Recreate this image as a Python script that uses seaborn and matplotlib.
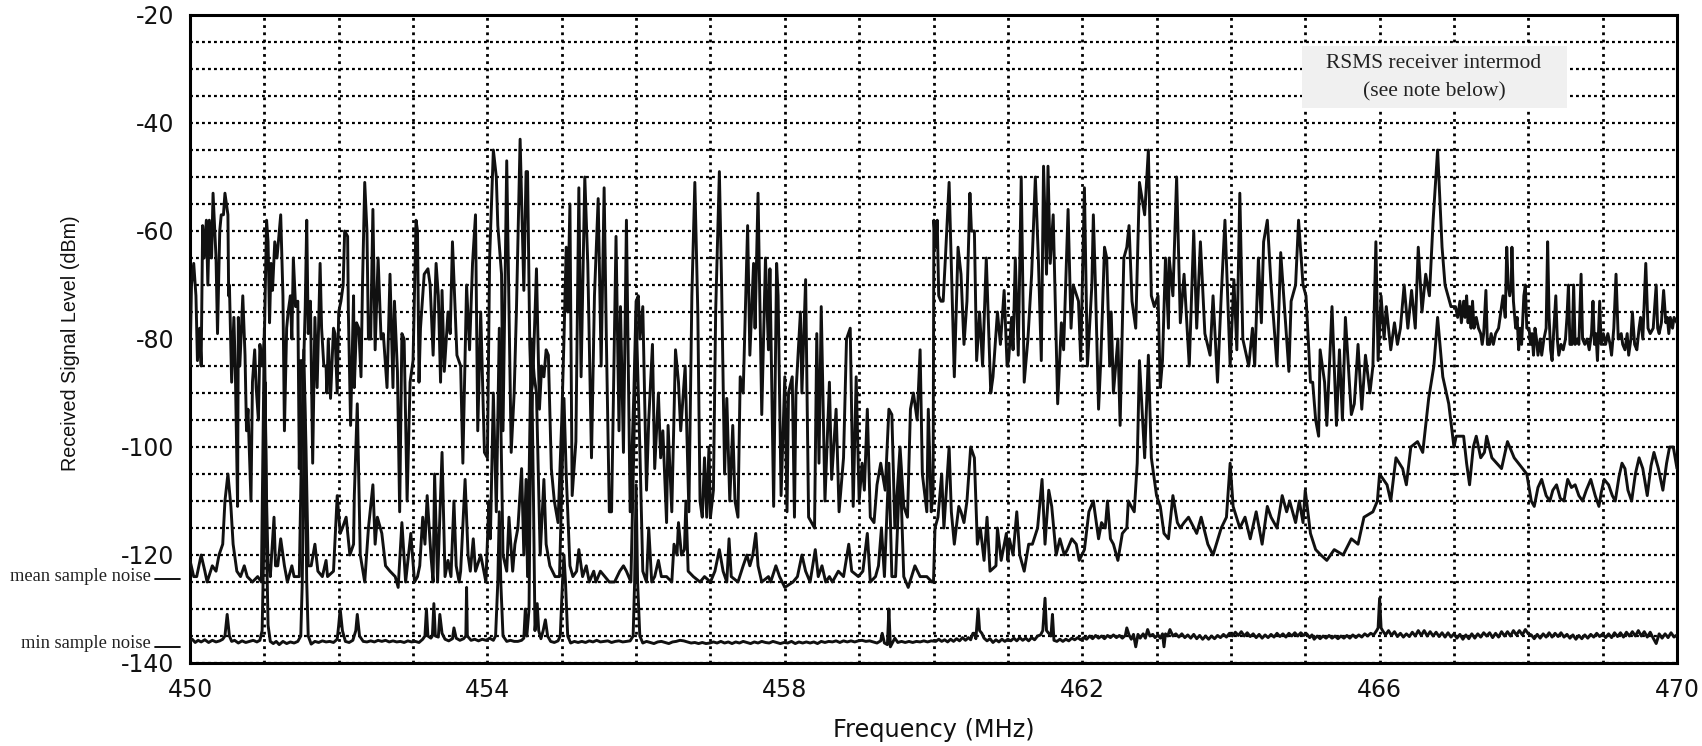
import pandas as pd
import numpy as np
import matplotlib
matplotlib.use("Agg")
import matplotlib.pyplot as plt
from matplotlib.patches import Rectangle
import seaborn as sns

# (MHz, dBm), upper curve = max sample
upper_450 = [(450.0,-85),(450.02,-70),(450.05,-66),(450.08,-72),(450.1,-84),(450.13,-78),(450.15,-85),(450.17,-59),(450.19,-65),(450.22,-58),(450.24,-70),(450.26,-58),(450.29,-65),(450.31,-53),(450.35,-65),(450.37,-79),(450.4,-60),(450.42,-57),(450.45,-57),(450.47,-53),(450.51,-57),(450.52,-72),(450.53,-70),(450.56,-88),(450.59,-76),(450.61,-86),(450.64,-111),(450.65,-76),(450.67,-85),(450.71,-72),(450.74,-83),(450.76,-97),(450.78,-93),(450.82,-110),(450.84,-88),(450.87,-82),(450.89,-89),(450.92,-95),(450.94,-81),(450.97,-85),(451.0,-80),
 (451.03,-58),(451.05,-62),(451.07,-77),(451.09,-66),(451.11,-71),(451.14,-62),(451.17,-65),(451.22,-57),(451.25,-72),(451.27,-97),(451.3,-78),(451.32,-75),(451.35,-72),(451.37,-80),(451.39,-65),(451.42,-74),(451.45,-73),(451.47,-104),(451.49,-84),(451.53,-84),(451.55,-74),(451.57,-58),(451.59,-79),(451.62,-73),(451.65,-103),(451.68,-76),(451.71,-89),(451.75,-66),(451.77,-78),(451.8,-85),(451.83,-85),(451.84,-90),(451.86,-80),(451.89,-91),(451.93,-78),(451.95,-79),(451.98,-90),(452.0,-75),
 (452.03,-73),(452.06,-70),(452.08,-60),(452.12,-61),(452.13,-75),(452.16,-96),(452.2,-72),(452.21,-89),(452.24,-77),(452.27,-78),(452.3,-87),(452.32,-70),(452.35,-51),(452.38,-60),(452.4,-80),(452.43,-80),(452.46,-56),(452.49,-82),(452.53,-65),(452.57,-80),(452.6,-79),(452.65,-89),(452.69,-68),(452.73,-89),(452.75,-73),(452.79,-86),(452.82,-112),(452.85,-79),(452.88,-80),(452.92,-110),(452.96,-88),(453.0,-84),
 (453.04,-58),(453.06,-60),(453.08,-88),(453.1,-78),(453.15,-68),(453.2,-67),(453.23,-70),(453.27,-83),(453.31,-66),(453.34,-72),(453.37,-88),(453.39,-71),(453.42,-86),(453.47,-75),(453.5,-79),(453.53,-62),(453.59,-83),(453.64,-85),(453.67,-103),(453.72,-70),(453.76,-82),(453.8,-66),(453.84,-57),(453.87,-97),(453.91,-75),(453.96,-101),(454.0,-102),
 (454.03,-65),(454.08,-45),(454.12,-50),(454.14,-59),(454.19,-68),(454.21,-97),(454.26,-47),(454.32,-101),(454.36,-90),(454.39,-75),(454.44,-43),(454.49,-71),(454.52,-49),(454.54,-49),(454.57,-81),(454.59,-90),(454.61,-88),(454.66,-67),(454.7,-93),(454.73,-85),(454.76,-87),(454.79,-82),(454.82,-83),(454.86,-104),(454.9,-110),(454.95,-114),(455.0,-95)]

upper_455 = [(455.03,-80),(455.06,-63),(455.08,-75),(455.11,-55),(455.14,-109),(455.19,-99),(455.23,-52),(455.26,-87),(455.31,-50),(455.35,-66),(455.4,-102),(455.44,-72),(455.49,-54),(455.53,-85),(455.57,-52),(455.6,-80),(455.64,-112),(455.67,-112),(455.73,-61),(455.77,-97),(455.79,-74),(455.83,-101),(455.87,-58),(455.92,-112),(455.97,-90),(456.0,-73),
 (456.03,-72),(456.05,-80),(456.09,-74),(456.14,-108),(456.17,-95),(456.22,-81),(456.25,-104),(456.3,-90),(456.33,-102),(456.36,-97),(456.41,-114),(456.43,-96),(456.48,-112),(456.53,-82),(456.57,-88),(456.6,-97),(456.66,-85),(456.71,-112),(456.75,-72),(456.79,-51),(456.83,-75),(456.86,-110),(456.89,-113),(456.92,-102),(456.95,-113),(456.98,-100),
 (457.0,-113),(457.04,-108),(457.07,-75),(457.12,-49),(457.15,-70),(457.19,-105),(457.22,-91),(457.26,-110),(457.3,-96),(457.33,-110),(457.37,-113),(457.4,-87),(457.44,-90),(457.5,-59),(457.53,-83),(457.58,-66),(457.6,-78),(457.64,-53),(457.69,-94),(457.74,-65),(457.78,-82),(457.8,-67),(457.85,-111),(457.89,-66),(457.91,-72),(457.95,-109),(458.0,-87),
 (458.03,-112),(458.05,-90),(458.1,-87),(458.13,-113),(458.15,-90),(458.21,-75),(458.23,-90),(458.28,-69),(458.32,-113),(458.4,-115),(458.43,-79),(458.46,-103),(458.49,-74),(458.54,-110),(458.6,-88),(458.63,-106),(458.69,-93),(458.73,-112),(458.79,-102),(458.83,-80),(458.88,-78),(458.92,-111),(458.96,-87),(459.0,-110),
 (459.04,-103),(459.07,-108),(459.11,-93),(459.15,-113),(459.2,-114),(459.24,-107),(459.29,-103),(459.35,-108),(459.4,-93),(459.44,-94),(459.48,-115),(459.55,-100),(459.6,-111),(459.65,-113),(459.69,-93),(459.73,-90),(459.78,-95),(459.82,-82),(459.85,-105),(459.91,-112),(459.93,-93),(459.97,-112),(459.995,-108)]

upper_460 = [(460.005,-58),(460.03,-63),(460.05,-58),(460.07,-72),(460.1,-73),(460.13,-73),(460.16,-65),(460.21,-51),(460.28,-87),(460.33,-63),(460.37,-68),(460.41,-81),(460.45,-73),(460.49,-53),(460.51,-60),(460.55,-60),(460.58,-84),(460.62,-75),(460.66,-85),(460.71,-65),(460.77,-90),(460.8,-87),(460.86,-75),(460.9,-81),(460.95,-71),(460.99,-85),
 (461.01,-84),(461.05,-76),(461.07,-82),(461.1,-65),(461.14,-83),(461.18,-50),(461.22,-88),(461.27,-80),(461.32,-68),(461.37,-50),(461.41,-65),(461.45,-84),(461.48,-48),(461.52,-68),(461.54,-48),(461.57,-66),(461.61,-57),(461.67,-92),(461.72,-77),(461.75,-82),(461.81,-56),(461.85,-78),(461.88,-70),(461.95,-73),(461.98,-84),
 (462.03,-52),(462.07,-85),(462.13,-70),(462.15,-57),(462.18,-71),(462.22,-93),(462.25,-84),(462.3,-63),(462.33,-65),(462.37,-85),(462.39,-75),(462.42,-90),(462.48,-80),(462.51,-96),(462.56,-65),(462.6,-63),(462.63,-59),(462.67,-73),(462.72,-78),(462.77,-51),(462.84,-57),(462.89,-45),(462.93,-72),(462.97,-74),
 (463.02,-72),(463.05,-89),(463.08,-84),(463.12,-65),(463.16,-78),(463.17,-65),(463.22,-72),(463.27,-50),(463.32,-77),(463.37,-68),(463.44,-85),(463.5,-60),(463.54,-78),(463.59,-62),(463.65,-79),(463.72,-83),(463.76,-72),(463.82,-88),(463.87,-72),(463.92,-58),(463.99,-85),
 (464.04,-69),(464.08,-82),(464.12,-53),(464.16,-80),(464.24,-85),(464.29,-78),(464.32,-85),(464.37,-65),(464.41,-77),(464.44,-62),(464.49,-58),(464.54,-70),(464.62,-85),(464.67,-64),(464.72,-74),(464.78,-86),(464.81,-73),(464.87,-70),(464.91,-58),(464.97,-70)]

upper_465 = [(465.01,-72),(465.07,-88),(465.1,-88),(465.14,-95),(465.18,-98),(465.2,-82),(465.26,-88),(465.29,-96),(465.36,-74),(465.42,-96),(465.46,-82),(465.5,-95),(465.54,-76),(465.62,-94),(465.66,-92),(465.71,-81),(465.76,-93),(465.81,-83),(465.87,-90),(465.91,-85),(465.95,-62),(465.98,-84),
 (466.02,-72),(466.06,-80),(466.09,-74),(466.15,-82),(466.2,-77),(466.24,-81),(466.28,-78),(466.33,-70),(466.38,-78),(466.43,-71),(466.48,-78),(466.52,-63),(466.57,-75),(466.62,-68),(466.67,-72),(466.72,-58),(466.78,-45),(466.84,-63),(466.88,-70),(466.92,-72),(466.96,-74),
 (467.02,-74),(467.05,-76),(467.08,-73),(467.1,-77),(467.13,-73),(467.15,-76),(467.17,-72),(467.19,-77),(467.21,-74),(467.23,-78),(467.25,-73),(467.27,-78),(467.3,-76),(467.33,-78),(467.36,-79),(467.38,-81),(467.4,-79),(467.43,-71),(467.45,-81),(467.48,-81),(467.5,-79),(467.53,-81),(467.56,-79),(467.6,-78),(467.63,-75),(467.66,-72),(467.69,-76),(467.71,-63),(467.73,-70),(467.75,-72),(467.77,-70),(467.78,-63),(467.8,-73),(467.83,-78),(467.85,-76),(467.87,-82),(467.89,-78),(467.91,-81),(467.94,-72),(467.96,-70),(467.98,-78),
 (468.01,-78),(468.03,-81),(468.05,-79),(468.07,-83),(468.09,-78),(468.11,-80),(468.13,-83),(468.16,-80),(468.18,-83),(468.21,-80),(468.24,-78),(468.26,-62),(468.28,-76),(468.3,-82),(468.32,-84),(468.34,-79),(468.37,-72),(468.39,-80),(468.41,-83),(468.44,-81),(468.47,-82),(468.5,-80),(468.52,-76),(468.54,-70),(468.56,-81),(468.59,-81),(468.61,-70),(468.63,-81),(468.66,-80),(468.68,-81),(468.71,-68),(468.73,-80),(468.76,-81),(468.79,-80),(468.82,-82),(468.85,-79),(468.87,-73),(468.89,-81),(468.91,-79),(468.93,-84),(468.96,-73),(468.98,-81),
 (469.01,-79),(469.04,-81),(469.07,-79),(469.1,-81),(469.12,-83),(469.15,-78),(469.18,-68),(469.21,-80),(469.25,-79),(469.27,-81),(469.3,-82),(469.33,-79),(469.35,-83),(469.38,-80),(469.4,-75),(469.43,-81),(469.46,-82),(469.49,-78),(469.51,-76),(469.54,-80),(469.58,-66),(469.61,-78),(469.64,-79),(469.68,-78),(469.72,-70),(469.74,-78),(469.76,-79),(469.79,-77),(469.82,-71),(469.85,-77),(469.87,-76),(469.89,-79),(469.91,-76),(469.94,-78),(469.96,-76),(470.0,-77)]

# mean sample
middle_450 = [(450.0,-121),(450.05,-124),(450.09,-124),(450.15,-120),(450.2,-123),(450.23,-125),(450.3,-122),(450.35,-123),(450.39,-120),(450.44,-118),(450.47,-110),(450.51,-105),(450.55,-111),(450.58,-118),(450.63,-123),(450.68,-124),(450.73,-122),(450.77,-124),(450.84,-125),(450.91,-124),(450.96,-125),(451.0,-78),(451.03,-110),
 (451.05,-122),(451.06,-122),(451.08,-124),(451.13,-113),(451.15,-122),(451.18,-122),(451.22,-117),(451.27,-122),(451.31,-125),(451.37,-122),(451.4,-124),(451.47,-124),(451.5,-100),(451.53,-82),(451.56,-100),(451.59,-122),(451.63,-122),(451.68,-118),(451.72,-123),(451.78,-124),(451.83,-121),(451.85,-124),(451.93,-123),
 (451.98,-109),(452.02,-116),(452.05,-115),(452.1,-113),(452.15,-120),(452.2,-118),(452.21,-109),(452.25,-92),(452.29,-120),(452.35,-125),(452.4,-115),(452.46,-107),(452.49,-118),(452.52,-113),(452.58,-116),(452.63,-122),(452.69,-123),(452.76,-124),(452.8,-126),(452.85,-114),(452.9,-125),(452.97,-116),
 (453.02,-125),(453.06,-124),(453.09,-122),(453.13,-113),(453.16,-118),(453.19,-109),(453.24,-120),(453.27,-125),(453.29,-105),(453.33,-125),(453.39,-101),(453.43,-124),(453.47,-121),(453.51,-124),(453.55,-110),(453.58,-122),(453.62,-125),(453.64,-123),(453.7,-106),(453.74,-120),(453.77,-123),(453.81,-117),(453.84,-123),(453.91,-120),(453.98,-125),
 (454.02,-110),(454.04,-117),(454.08,-90),(454.12,-112),(454.16,-78),(454.21,-120),(454.26,-123),(454.29,-113),(454.34,-123),(454.37,-118),(454.41,-115),(454.46,-104),(454.49,-120),(454.52,-106),(454.54,-124),(454.59,-80),(454.63,-87),(454.66,-90),(454.71,-120),(454.76,-106),(454.79,-118),(454.84,-122),(454.91,-124),(454.97,-124)]

middle_455 = [(455.03,-91),(455.06,-105),(455.11,-122),(455.15,-124),(455.2,-123),(455.23,-119),(455.28,-124),(455.33,-122),(455.37,-125),(455.43,-123),(455.46,-125),(455.52,-123),(455.58,-124),(455.64,-125),(455.71,-125),(455.78,-123),(455.83,-122),(455.87,-123),(455.93,-125),(455.97,-100),
 (456.0,-75),(456.05,-100),(456.09,-123),(456.14,-125),(456.17,-115),(456.21,-125),(456.25,-124),(456.3,-121),(456.34,-124),(456.41,-124),(456.48,-125),(456.51,-118),(456.55,-120),(456.57,-114),(456.61,-120),(456.65,-119),(456.67,-110),(456.7,-123),(456.77,-124),(456.86,-125),(456.92,-124),
 (457.0,-125),(457.06,-123),(457.12,-119),(457.17,-123),(457.22,-125),(457.25,-117),(457.28,-124),(457.37,-125),(457.44,-122),(457.49,-120),(457.53,-122),(457.57,-120),(457.61,-116),(457.64,-122),(457.69,-125),(457.78,-124),(457.81,-125),(457.88,-122),(457.93,-124),
 (458.0,-126),(458.11,-125),(458.17,-124),(458.23,-120),(458.28,-123),(458.34,-125),(458.41,-119),(458.45,-124),(458.5,-122),(458.55,-125),(458.6,-124),(458.64,-125),(458.72,-123),(458.79,-124),(458.86,-118),(458.9,-123),(458.99,-124),
 (459.05,-123),(459.11,-116),(459.15,-125),(459.22,-124),(459.26,-122),(459.3,-115),(459.34,-124),(459.4,-103),(459.44,-124),(459.49,-124),(459.55,-103),(459.6,-124),(459.66,-126),(459.75,-122),(459.82,-124),(459.91,-124),(459.98,-125),(460.0,-125)]

middle_460 = [(460.02,-115),(460.06,-113),(460.11,-105),(460.14,-115),(460.21,-100),(460.24,-112),(460.28,-118),(460.34,-111),(460.37,-112),(460.41,-114),(460.45,-110),(460.5,-100),(460.55,-102),(460.59,-118),(460.63,-115),(460.68,-121),(460.72,-113),(460.76,-123),(460.84,-122),(460.86,-115),(460.91,-121),(460.98,-116),
 (461.0,-121),(461.02,-117),(461.07,-120),(461.12,-112),(461.16,-120),(461.22,-123),(461.28,-118),(461.33,-118),(461.4,-115),(461.46,-106),(461.5,-118),(461.55,-108),(461.59,-111),(461.65,-120),(461.7,-117),(461.76,-120),(461.8,-119),(461.86,-117),(461.92,-118),(461.96,-121),
 (462.03,-119),(462.09,-112),(462.15,-110),(462.22,-117),(462.26,-114),(462.31,-115),(462.34,-110),(462.38,-117),(462.42,-118),(462.48,-121),(462.54,-116),(462.6,-115),(462.62,-110),(462.7,-112),(462.74,-103),(462.77,-84),(462.84,-102),(462.89,-83),(462.93,-102),
 (463.0,-109),(463.05,-111),(463.1,-116),(463.16,-117),(463.22,-109),(463.28,-114),(463.32,-115),(463.37,-114),(463.43,-113),(463.54,-116),(463.6,-113),(463.69,-118),(463.76,-120),(463.87,-115),(463.94,-113),(463.99,-103),
 (464.03,-111),(464.12,-115),(464.19,-113),(464.26,-117),(464.34,-112),(464.42,-118),(464.49,-111),(464.54,-113),(464.62,-115),(464.69,-109),(464.75,-112),(464.79,-110),(464.87,-114),(464.92,-110),(464.97,-114)]

middle_465 = [(465.0,-108),(465.07,-116),(465.14,-119),(465.21,-120),(465.29,-121),(465.39,-119),(465.51,-120),(465.62,-117),(465.71,-118),(465.79,-113),(465.91,-112),(465.97,-110),
 (466.0,-105),(466.1,-107),(466.15,-110),(466.22,-102),(466.31,-104),(466.36,-107),(466.42,-100),(466.51,-99),(466.58,-101),(466.66,-91),(466.73,-85),(466.78,-76),(466.85,-87),(466.93,-92),
 (467.0,-100),(467.03,-98),(467.13,-98),(467.17,-103),(467.21,-107),(467.26,-100),(467.3,-98),(467.36,-102),(467.41,-101),(467.44,-98),(467.51,-102),(467.64,-104),(467.72,-99),(467.81,-102),(467.98,-105),
 (468.04,-110),(468.08,-111),(468.13,-107.5),(468.18,-106),(468.24,-109),(468.29,-110),(468.33,-108),(468.38,-107),(468.43,-109.5),(468.48,-110),(468.51,-107.5),(468.53,-106),(468.58,-107.5),(468.63,-107),(468.68,-109),(468.73,-110),(468.78,-108),(468.84,-106),(468.9,-109),(468.95,-111),
 (468.98,-108.5),(469.02,-106),(469.08,-107),(469.13,-109),(469.17,-110),(469.22,-105.5),(469.26,-103),(469.3,-104),(469.34,-108),(469.39,-110),(469.44,-105),(469.49,-102),(469.54,-104),(469.6,-109),(469.65,-103.5),(469.69,-101),(469.75,-104),(469.81,-108),(469.86,-103),(469.9,-100),(469.95,-100),(470.0,-104)]

# min sample
lower_450 = [(450.0,-136),(450.03,-135.6),(450.07,-136.2),(450.11,-135.8),(450.15,-136.1),(450.2,-135.7),(450.25,-136.2),(450.3,-135.8),(450.35,-136.1),(450.4,-135.9),(450.44,-135.6),(450.47,-135),(450.5,-131),(450.53,-135),(450.56,-136),(450.6,-135.8),(450.65,-136.3),(450.7,-135.9),(450.75,-136.2),(450.8,-136),(450.85,-135.8),(450.9,-136.1),(450.94,-135.8),(450.97,-134),(450.99,-120),(451.01,-88),(451.03,-118),(451.05,-133),(451.08,-136),(451.12,-136.4),(451.16,-136),(451.2,-136.6),(451.25,-136),(451.3,-136.4),(451.35,-136.1),(451.4,-136.3),(451.45,-136),(451.49,-135),(451.51,-125),(451.54,-90),(451.57,-125),(451.59,-135),(451.63,-136.5),(451.68,-136),(451.73,-136.2),(451.78,-135.9),(451.83,-136.1),(451.88,-136),(451.93,-136.2),(451.98,-135.6),
 (452.0,-133),(452.02,-130),(452.05,-134),(452.09,-136),(452.14,-136.2),(452.19,-135.8),(452.23,-134),(452.25,-131),(452.28,-135),(452.33,-136),(452.38,-136.1),(452.43,-135.9),(452.48,-136.1),(452.53,-135.8),(452.58,-136),(452.63,-135.8),(452.68,-136.1),(452.73,-135.9),(452.78,-136.1),(452.83,-136),(452.88,-136.2),(452.93,-135.9),(452.98,-136.1),
 (453.03,-136),(453.08,-136.2),(453.13,-135.6),(453.16,-135),(453.18,-130),(453.2,-135),(453.24,-135.4),(453.26,-135),(453.28,-129),(453.3,-135),(453.34,-135.2),(453.36,-131),(453.39,-134.5),(453.43,-135.6),(453.48,-135.9),(453.53,-135.5),(453.55,-133.5),(453.58,-135.4),(453.63,-135.8),(453.68,-135.5),(453.71,-135),(453.72,-126),(453.73,-135),(453.78,-135.8),(453.83,-135.6),(453.88,-135.9),(453.93,-135.6),(453.98,-135.8),
 (454.03,-135.4),(454.08,-135.8),(454.11,-135),(454.14,-125),(454.16,-112),(454.18,-125),(454.21,-135),(454.26,-136),(454.31,-135.8),(454.36,-136),(454.41,-136),(454.46,-135.8),(454.49,-135.4),(454.51,-130),(454.53,-135),(454.56,-130),(454.58,-100),(454.6,-90),(454.62,-110),(454.64,-134),(454.67,-129),(454.69,-134),(454.72,-135.5),(454.75,-134),(454.78,-132),(454.81,-135),(454.85,-136),(454.9,-136.2),(454.95,-135.9),(454.98,-135)]

lower_455 = [(455.01,-125),(455.03,-120),(455.05,-125),(455.08,-135),(455.12,-136.3),(455.17,-136),(455.22,-136.2),(455.27,-136),(455.32,-136.2),(455.37,-135.9),(455.42,-136.1),(455.47,-135.8),(455.52,-136.1),(455.57,-136),(455.62,-135.9),(455.67,-136.2),(455.72,-136),(455.77,-135.9),(455.82,-136.1),(455.87,-136),(455.92,-135.9),(455.96,-135),(455.98,-125),(456.0,-107),(456.02,-125),(456.05,-135),(456.09,-136.3),(456.14,-136),(456.19,-136.2),(456.24,-136.4),(456.29,-136.1),(456.34,-136),(456.39,-136.2),(456.44,-136.4),(456.49,-136.1),(456.54,-136),(456.59,-135.8),(456.64,-135.9),(456.69,-136.1),(456.74,-136.3),(456.79,-136.2),(456.84,-136.4),(456.89,-136.2),(456.94,-136.4),(456.99,-136.3),
 (457.04,-136.1),(457.09,-136.3),(457.14,-136),(457.19,-136.3),(457.24,-136.1),(457.29,-136.4),(457.34,-136.1),(457.39,-136.3),(457.44,-136),(457.49,-136.2),(457.54,-136.4),(457.59,-136.1),(457.64,-136.3),(457.69,-136),(457.74,-136.2),(457.79,-136.3),(457.84,-136),(457.89,-136.2),(457.94,-136.4),(457.99,-136.2),
 (458.04,-136.3),(458.09,-136),(458.14,-136.4),(458.19,-136.1),(458.24,-136.3),(458.29,-136.1),(458.34,-136.3),(458.39,-136.1),(458.44,-136.4),(458.49,-136),(458.54,-136.2),(458.59,-136),(458.64,-136.1),(458.69,-135.9),(458.74,-136.2),(458.79,-135.9),(458.84,-136.1),(458.89,-135.9),(458.94,-136.1),(458.99,-135.9),
 (459.04,-135.8),(459.09,-136),(459.14,-135.9),(459.19,-136.1),(459.24,-136.3),(459.29,-135.9),(459.31,-134.5),(459.34,-136.3),(459.38,-136.6),(459.4,-130),(459.42,-137),(459.45,-136.2),(459.48,-135.4),(459.52,-136.2),(459.57,-136),(459.62,-136.2),(459.67,-136),(459.72,-136.2),(459.77,-136),(459.82,-136.1),(459.87,-135.9),(459.92,-136.1),(459.97,-135.9)]

lower_460 = [(460.03,-136),(460.07,-135.6),(460.11,-136),(460.15,-135.7),(460.19,-136.1),(460.23,-135.6),(460.27,-136),(460.31,-135.5),(460.35,-135.9),(460.39,-135.3),(460.43,-135.8),(460.47,-135.3),(460.5,-135.7),(460.53,-134.5),(460.55,-134.5),(460.57,-135.5),(460.6,-130),(460.62,-134),(460.65,-134.5),(460.68,-135.4),(460.72,-135.9),(460.76,-135.5),(460.8,-136.2),(460.84,-135.7),(460.88,-136.1),(460.92,-135.6),(460.96,-136),(461.0,-135.6),
 (461.04,-135.9),(461.08,-135.4),(461.12,-135.9),(461.16,-135.3),(461.2,-135.8),(461.24,-135.4),(461.28,-135.9),(461.32,-135.3),(461.36,-135.7),(461.4,-135),(461.44,-134.8),(461.47,-134),(461.5,-128),(461.52,-134),(461.55,-134.5),(461.58,-135),(461.6,-131),(461.62,-135.8),(461.66,-136),(461.7,-135.6),(461.74,-136),(461.78,-135.6),(461.82,-135.9),(461.86,-135.4),(461.9,-135.7),(461.94,-135.3),(461.98,-135.7),
 (462.02,-135.3),(462.06,-135.6),(462.1,-135),(462.14,-135.5),(462.18,-134.9),(462.22,-135.4),(462.26,-135),(462.3,-135.5),(462.34,-134.9),(462.38,-135.3),(462.42,-134.8),(462.46,-135.3),(462.5,-134.9),(462.54,-135.4),(462.58,-134.9),(462.6,-133.5),(462.63,-134.8),(462.66,-135.6),(462.69,-134.7),(462.72,-137),(462.75,-134.7),(462.78,-135.4),(462.82,-134.6),(462.85,-135.4),(462.88,-133.8),(462.91,-135),(462.95,-134.7),(462.98,-135.3),
 (463.02,-134.8),(463.05,-135.4),(463.08,-134.6),(463.1,-137),(463.12,-134.6),(463.15,-135),(463.18,-133.8),(463.22,-135),(463.26,-134.6),(463.3,-135.2),(463.34,-134.6),(463.38,-135.3),(463.42,-134.8),(463.46,-135.4),(463.5,-134.7),(463.54,-135.5),(463.58,-134.9),(463.62,-135.6),(463.66,-135),(463.7,-135.6),(463.74,-135),(463.78,-135.5),(463.82,-134.9),(463.86,-135.3),(463.9,-134.7),(463.94,-135.2),(463.98,-134.5),
 (464.02,-135),(464.06,-134.3),(464.1,-134.9),(464.14,-134.2),(464.18,-135),(464.22,-134.4),(464.26,-135.1),(464.3,-134.6),(464.34,-135.3),(464.38,-134.7),(464.42,-135.4),(464.46,-134.8),(464.5,-135.3),(464.54,-134.7),(464.58,-135.2),(464.62,-134.5),(464.66,-135.1),(464.7,-134.6),(464.74,-135.2),(464.78,-134.5),(464.82,-135),(464.86,-134.4),(464.9,-135),(464.94,-134.4),(464.98,-134.9)]

lower_465 = [(465.02,-134.6),(465.06,-135.3),(465.09,-134.8),(465.12,-135.6),(465.16,-135),(465.2,-135.5),(465.24,-135),(465.28,-135.4),(465.32,-134.9),(465.36,-135.4),(465.4,-135),(465.44,-135.5),(465.48,-135),(465.52,-135.4),(465.56,-134.9),(465.6,-135.4),(465.64,-134.8),(465.68,-135.3),(465.72,-134.8),(465.76,-135.2),(465.8,-134.6),(465.84,-135),(465.88,-134.5),(465.92,-134.8),(465.96,-134),(465.98,-133.5),(466.0,-128),(466.02,-133.5),(466.04,-134),(466.08,-134.8),(466.12,-134),(466.16,-134.9),(466.2,-134.2),(466.24,-135.1),(466.28,-134.5),(466.32,-135.2),(466.36,-134.6),(466.4,-135.1),(466.44,-134.3),(466.48,-135),(466.52,-134),(466.56,-134.9),(466.6,-134),(466.64,-135),(466.68,-134.2),(466.72,-135),(466.76,-134.3),(466.8,-135.1),(466.84,-134.4),(466.88,-135.2),(466.92,-134.4),(466.96,-135.2),
 (467.0,-134.6),(467.04,-135.4),(467.08,-134.7),(467.12,-135.6),(467.16,-134.8),(467.2,-135.5),(467.24,-134.6),(467.28,-135.4),(467.32,-134.6),(467.36,-135.2),(467.4,-134.4),(467.44,-135),(467.48,-134.4),(467.52,-135.3),(467.56,-134.5),(467.6,-135.2),(467.64,-134.2),(467.68,-135),(467.72,-134.2),(467.76,-135),(467.8,-134),(467.84,-134.8),(467.88,-134),(467.92,-134.8),(467.96,-133.8),
 (468.0,-134.6),(468.04,-134.8),(468.08,-135.5),(468.12,-134.7),(468.16,-135.4),(468.2,-134.6),(468.24,-135.2),(468.28,-134.4),(468.32,-135.2),(468.36,-134.5),(468.4,-135.1),(468.44,-134.4),(468.48,-135.2),(468.52,-134.7),(468.56,-135.4),(468.6,-134.8),(468.64,-135.6),(468.68,-134.9),(468.72,-135.5),(468.76,-134.8),(468.8,-135.4),(468.84,-134.7),(468.88,-135.2),(468.92,-134.5),(468.96,-135.1),
 (469.0,-134.6),(469.04,-135.3),(469.08,-134.6),(469.12,-135.3),(469.16,-134.4),(469.2,-135.1),(469.24,-134.4),(469.28,-135.2),(469.32,-134.3),(469.36,-135),(469.4,-134.2),(469.44,-135),(469.48,-134),(469.52,-135),(469.56,-134.2),(469.6,-135.2),(469.64,-134.3),(469.68,-135.4),(469.72,-136.4),(469.76,-134.6),(469.8,-135.4),(469.84,-134.6),(469.88,-135.3),(469.92,-134.4),(469.96,-135.2),(470.0,-134.8)]

x_major = [450, 454, 458, 462, 466, 470]
y_major = [-140, -120, -100, -80, -60, -40, -20]
mean_noise = -124.5
min_noise = -137

traces = {"upper": upper_450 + upper_455 + upper_460 + upper_465,
          "middle": middle_450 + middle_455 + middle_460 + middle_465,
          "lower": lower_450 + lower_455 + lower_460 + lower_465}
df = pd.concat([pd.DataFrame(v, columns=["freq", "level"]).assign(trace=k) for k, v in traces.items()])

sns.set_theme(style="white")
plt.rcParams["font.family"] = ["DejaVu Sans"]
plt.rcParams["axes.unicode_minus"] = False

fig = plt.figure(figsize=(17.02, 7.46), dpi=100)
ax = fig.add_axes([190/1702, 1-663/746, 1487/1702, 648/746])

sns.lineplot(data=df, x="freq", y="level", units="trace", estimator=None, sort=False,
             color="#111111", linewidth=2.1, ax=ax, zorder=3)

ax.set_xlim(450, 470)
ax.set_ylim(-140, -20)
ax.set_xticks(x_major)
ax.set_xticks(np.arange(450, 471), minor=True)
ax.set_yticks(y_major)
ax.set_yticks(np.arange(-140, -19, 5), minor=True)
ax.tick_params(which="both", length=0)
ax.tick_params(axis="both", labelsize=17, colors="#111111")
ax.tick_params(axis="x", pad=11)
ax.tick_params(axis="y", pad=11)

# dotted grid, verticals a bit heavier
ax.xaxis.grid(True, which="both", color="black", linewidth=2.0, linestyle=(0, (1, 1.6)), zorder=1)
ax.yaxis.grid(True, which="both", color="black", linewidth=1.6, linestyle=(0, (1.3, 1.4)), zorder=1)
ax.set_axisbelow(True)
for s in ax.spines.values():
    s.set_color("black")
    s.set_linewidth(2.2)

ax.set_xlabel("Frequency (MHz)", fontsize=17.3, labelpad=11, color="#111111")
fig.text(70/1702, 1-343/746, "Received Signal Level (dBm)", rotation=90, va="center", ha="center",
         fontsize=14.2, family="Liberation Sans", color="#111111")
ax.set_ylabel("")

# note box over the grid
ax.add_patch(Rectangle((464.95, -37.3), 3.57, 11.5, facecolor="#f0f0f0", edgecolor="none", zorder=2))
ax.text(466.73, -28.9, "RSMS receiver intermod", ha="center", va="center", fontsize=15.5,
        family="Liberation Serif", color="#222222", zorder=4)
ax.text(466.73, -34.2, "(see note below)", ha="center", va="center", fontsize=15.5,
        family="Liberation Serif", color="#222222", zorder=4)

# noise level marks left of the axis
trans = ax.get_yaxis_transform()
for lvl, name in [(mean_noise, "mean sample noise"), (min_noise, "min sample noise")]:
    ax.plot([-0.0235, -0.0065], [lvl, lvl], transform=trans, color="black", lw=1.3, clip_on=False)
    ax.text(-0.0265, lvl + 0.6, name, transform=trans, ha="right", va="center", fontsize=13.3,
            family="Liberation Serif", color="#222222")

fig.savefig("out.png", dpi=100)
